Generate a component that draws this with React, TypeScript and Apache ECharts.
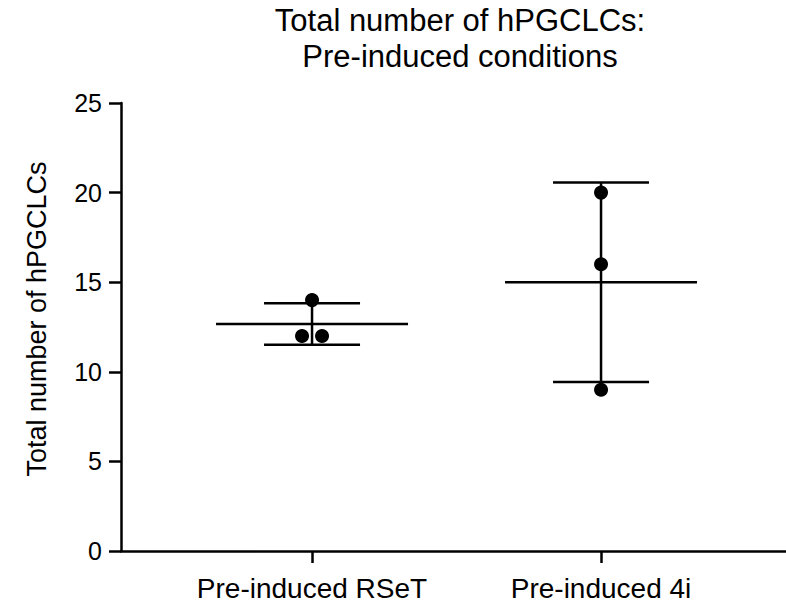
import React, { useEffect, useRef } from "react";
import * as echarts from "echarts";

const categories = ["Pre-induced RSeT", "Pre-induced 4i"];
const rsetValues = [14, 12, 12];
const fourIValues = [20, 16, 9];
const groups = [rsetValues, fourIValues];
const yTicks = [0, 5, 10, 15, 20, 25];
const titleLines = ["Total number of hPGCLCs:", "Pre-induced conditions"];
const yAxisName = "Total number of hPGCLCs";

const FONT = "'Liberation Sans', Arial, Helvetica, sans-serif";

function mean(a: number[]) {
  return a.reduce((s, v) => s + v, 0) / a.length;
}
function sd(a: number[]) {
  const m = mean(a);
  return Math.sqrt(a.reduce((s, v) => s + (v - m) * (v - m), 0) / (a.length - 1));
}

export default function App() {
  const ref = useRef<HTMLDivElement>(null);
  useEffect(() => {
    document.body.style.margin = "0";
    const chart = echarts.init(ref.current!, null, { renderer: "svg" });

    const stats = groups.map((g, i) => [i + 1, mean(g), sd(g)]);
    const points: any[] = [];
    groups.forEach((g, i) => {
      const counts: Record<number, number> = {};
      g.forEach((v) => (counts[v] = (counts[v] || 0) + 1));
      const seen: Record<number, number> = {};
      g.forEach((v) => {
        const n = counts[v];
        const k = seen[v] || 0;
        seen[v] = k + 1;
        const off = n > 1 ? (k - (n - 1) / 2) * 20 : 0;
        points.push({ value: [i + 1, v], symbolOffset: [off, 0] });
      });
    });

    const lw = 2.5;
    chart.setOption({
      animation: false,
      graphic: [
        {
          type: "text",
          x: 460,
          y: 2,
          style: {
            text: titleLines.join("\n"),
            font: `31px ${FONT}`,
            fill: "#000",
            align: "center",
            lineHeight: 36,
          },
        },
      ],
      grid: { left: 121, right: 0, top: 103, bottom: 59, containLabel: false },
      xAxis: {
        type: "value",
        min: 0.339,
        max: 2.64,
        splitLine: { show: false },
        axisLine: { show: true, onZero: false, lineStyle: { color: "#000", width: lw } },
        axisTick: {
          show: true,
          length: 12,
          customValues: [1, 2],
          lineStyle: { color: "#000", width: lw },
        },
        axisLabel: {
          show: true,
          customValues: [1, 2],
          formatter: (v: number) => categories[Math.round(v) - 1] || "",
          color: "#000",
          fontSize: 28,
          fontFamily: FONT,
          margin: 23,
        },
      },
      yAxis: {
        type: "value",
        min: 0,
        max: 25,
        interval: 5,
        splitLine: { show: false },
        name: yAxisName,
        nameLocation: "middle",
        nameGap: 71,
        nameTextStyle: { color: "#000", fontSize: 27, fontFamily: FONT, padding: [0, 0, 0, 16] },
        axisLine: { show: true, lineStyle: { color: "#000", width: lw } },
        axisTick: { show: true, length: 12, lineStyle: { color: "#000", width: lw } },
        axisLabel: {
          color: "#000",
          fontSize: 25,
          fontFamily: FONT,
          margin: 19,
          formatter: (v: number) => (yTicks.includes(v) ? String(v) : ""),
        },
      },
      series: [
        {
          type: "custom",
          data: stats,
          z: 2,
          renderItem: (params: any, api: any) => {
            const x = api.value(0);
            const m = api.value(1);
            const s = api.value(2);
            const pm = api.coord([x, m]);
            const pt = api.coord([x, m + s]);
            const pb = api.coord([x, m - s]);
            const style = { stroke: "#000", lineWidth: lw };
            return {
              type: "group",
              children: [
                { type: "line", shape: { x1: pm[0] - 96, y1: pm[1], x2: pm[0] + 96, y2: pm[1] }, style },
                { type: "line", shape: { x1: pt[0], y1: pt[1], x2: pb[0], y2: pb[1] }, style },
                { type: "line", shape: { x1: pt[0] - 48, y1: pt[1], x2: pt[0] + 48, y2: pt[1] }, style },
                { type: "line", shape: { x1: pb[0] - 48, y1: pb[1], x2: pb[0] + 48, y2: pb[1] }, style },
              ],
            };
          },
        },
        {
          type: "scatter",
          data: points,
          symbol: "circle",
          symbolSize: 14,
          itemStyle: { color: "#000", opacity: 1 },
          z: 3,
        },
      ],
    });
    return () => chart.dispose();
  }, []);
  return <div ref={ref} style={{ width: 786, height: 610 }} />;
}
